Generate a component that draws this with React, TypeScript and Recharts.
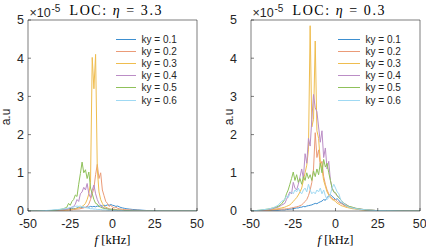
import React from "react";
import { LineChart, Line, XAxis, YAxis } from "recharts";

// frequency grid [kHz]
const FREQ = [
  -50, -45, -40, -37, -34, -32,
  -30, -29, -28, -27, -26, -25, -24, -23, -22, -21, -20, -19, -18, -17, -16, -15, -14, -13, -12,
  -11, -10, -9, -8, -7, -6, -5, -4, -3, -2, -1, 0, 1, 2, 3, 4, 5, 6, 7, 8,
  10, 12, 15, 18, 21, 25, 30, 40, 50,
];

const KY_LABELS = ["ky = 0.1", "ky = 0.2", "ky = 0.3", "ky = 0.4", "ky = 0.5", "ky = 0.6"];
const COLORS = ["#3d8fd0", "#eb9b78", "#efbd4f", "#bb8dc6", "#8fc15a", "#9fd9f3"];
const X_TICKS = [-50, -25, 0, 25, 50];
const Y_TICKS = [0, 1, 2, 3, 4, 5];

// LOC eta = 3.3 (values x 1e-5)
const A_KY1 = [
  0, 0, 0.01, 0.01, 0.02, 0.02,
  0.03, 0.03, 0.04, 0.04, 0.05, 0.05, 0.06, 0.07, 0.06, 0.08, 0.1, 0.08, 0.09, 0.1, 0.09, 0.11, 0.1, 0.12, 0.11,
  0.12, 0.11, 0.13, 0.12, 0.14, 0.13, 0.15, 0.14, 0.16, 0.15, 0.17, 0.15, 0.14, 0.12, 0.13, 0.11, 0.09, 0.08, 0.07, 0.06,
  0.05, 0.04, 0.03, 0.02, 0.01, 0.01, 0, 0, 0,
];
const A_KY2 = [
  0, 0, 0, 0, 0.01, 0.01,
  0.01, 0.01, 0.02, 0.02, 0.02, 0.03, 0.03, 0.04, 0.04, 0.05, 0.05, 0.06, 0.07, 0.08, 0.1, 0.12, 0.18, 0.3, 0.45,
  0.6, 0.95, 1.22, 0.85, 1.0, 0.55, 0.4, 0.25, 0.2, 0.12, 0.15, 0.1, 0.08, 0.1, 0.07, 0.06, 0.05, 0.04, 0.04, 0.03,
  0.03, 0.02, 0.02, 0.01, 0.01, 0, 0, 0, 0,
];
const A_KY3 = [
  0, 0, 0, 0.01, 0.01, 0.01,
  0.02, 0.02, 0.02, 0.03, 0.03, 0.04, 0.05, 0.05, 0.06, 0.07, 0.08, 0.1, 0.12, 0.15, 0.2, 0.3, 0.45, 0.75, 4.02,
  3.2, 4.1, 1.1, 0.5, 0.3, 0.2, 0.12, 0.1, 0.08, 0.06, 0.05, 0.05, 0.04, 0.04, 0.03, 0.03, 0.02, 0.02, 0.02, 0.01,
  0.01, 0.01, 0.01, 0, 0, 0, 0, 0, 0,
];
const A_KY4 = [
  0, 0, 0, 0.01, 0.01, 0.02,
  0.03, 0.03, 0.04, 0.05, 0.06, 0.08, 0.1, 0.12, 0.18, 0.3, 0.25, 0.45, 0.5, 0.62, 0.55, 0.72, 0.45, 0.35, 0.55,
  0.68, 0.45, 0.3, 0.2, 0.15, 0.1, 0.08, 0.07, 0.06, 0.05, 0.04, 0.04, 0.03, 0.03, 0.02, 0.02, 0.02, 0.01, 0.01, 0.01,
  0.01, 0, 0, 0, 0, 0, 0, 0, 0,
];
const A_KY5 = [
  0, 0, 0.01, 0.01, 0.02, 0.03,
  0.05, 0.06, 0.08, 0.1, 0.2, 0.15, 0.25, 0.3, 0.42, 0.38, 0.7, 0.98, 1.28, 1.0, 1.08, 0.85, 1.02, 0.6, 0.45,
  0.3, 0.2, 0.18, 0.12, 0.1, 0.08, 0.07, 0.06, 0.05, 0.04, 0.04, 0.03, 0.03, 0.03, 0.02, 0.02, 0.02, 0.01, 0.01, 0.01,
  0.01, 0, 0, 0, 0, 0, 0, 0, 0,
];
const A_KY6 = [
  0, 0, 0.01, 0.02, 0.03, 0.04,
  0.05, 0.06, 0.06, 0.07, 0.08, 0.09, 0.1, 0.11, 0.12, 0.13, 0.12, 0.13, 0.11, 0.1, 0.09, 0.08, 0.07, 0.06, 0.06,
  0.05, 0.05, 0.04, 0.04, 0.04, 0.03, 0.03, 0.03, 0.02, 0.02, 0.02, 0.02, 0.01, 0.01, 0.01, 0.01, 0.01, 0.01, 0, 0,
  0, 0, 0, 0, 0, 0, 0, 0, 0,
];

// LOC eta = 0.3 (values x 1e-5)
const B_KY1 = [
  0, 0.01, 0.01, 0.02, 0.02, 0.03,
  0.03, 0.04, 0.04, 0.05, 0.05, 0.06, 0.07, 0.08, 0.08, 0.1, 0.1, 0.12, 0.11, 0.13, 0.14, 0.15, 0.16, 0.18, 0.2,
  0.19, 0.22, 0.24, 0.26, 0.3, 0.28, 0.35, 0.4, 0.43, 0.38, 0.35, 0.3, 0.32, 0.28, 0.22, 0.2, 0.16, 0.14, 0.12, 0.1,
  0.08, 0.06, 0.04, 0.03, 0.02, 0.01, 0.01, 0, 0,
];
const B_KY2 = [
  0, 0.01, 0.02, 0.03, 0.04, 0.05,
  0.05, 0.06, 0.06, 0.07, 0.08, 0.09, 0.1, 0.11, 0.12, 0.14, 0.16, 0.2, 0.25, 0.3, 0.4, 0.55, 0.75, 1.1, 2.05,
  1.4, 1.6, 1.2, 1.3, 0.9, 0.7, 0.55, 0.45, 0.38, 0.33, 0.3, 0.3, 0.25, 0.22, 0.2, 0.18, 0.15, 0.13, 0.12, 0.1,
  0.08, 0.06, 0.04, 0.03, 0.02, 0.01, 0.01, 0, 0,
];
const B_KY3 = [
  0, 0.01, 0.02, 0.04, 0.06, 0.08,
  0.1, 0.12, 0.14, 0.16, 0.2, 0.25, 0.3, 0.35, 0.42, 0.5, 0.6, 0.8, 1.0, 1.2, 1.6, 4.85, 2.2, 2.4, 4.45,
  2.1, 1.9, 1.3, 1.1, 0.8, 0.65, 0.5, 0.42, 0.35, 0.3, 0.28, 0.25, 0.2, 0.18, 0.15, 0.13, 0.12, 0.1, 0.09, 0.08,
  0.06, 0.05, 0.03, 0.02, 0.02, 0.01, 0, 0, 0,
];
const B_KY4 = [
  0, 0.01, 0.03, 0.06, 0.1, 0.15,
  0.2, 0.3, 0.4, 0.5, 0.45, 0.75, 0.6, 0.55, 0.7, 0.9, 1.1, 0.85, 1.5, 1.25, 1.9, 1.7, 2.4, 3.05, 2.7,
  2.6, 2.2, 1.8, 2.1, 1.4, 1.65, 1.1, 1.3, 0.8, 0.6, 0.5, 0.45, 0.4, 0.35, 0.3, 0.25, 0.2, 0.18, 0.15, 0.12,
  0.09, 0.07, 0.05, 0.03, 0.02, 0.01, 0.01, 0, 0,
];
const B_KY5 = [
  0, 0.02, 0.05, 0.08, 0.12, 0.18,
  0.3, 0.45, 0.55, 0.7, 0.85, 1.02, 0.8, 0.95, 0.75, 0.85, 0.7, 0.9, 0.8, 1.0, 0.85, 0.95, 0.8, 1.05, 0.9,
  1.1, 0.95, 1.25, 1.0, 1.35, 1.15, 1.25, 1.0, 0.8, 0.6, 0.5, 0.48, 0.4, 0.35, 0.3, 0.25, 0.2, 0.17, 0.14, 0.12,
  0.1, 0.07, 0.05, 0.03, 0.02, 0.01, 0.01, 0, 0,
];
const B_KY6 = [
  0, 0.02, 0.05, 0.08, 0.15, 0.25,
  0.3, 0.4, 0.35, 0.45, 0.5, 0.45, 0.55, 0.5, 0.6, 0.5, 0.45, 0.55, 0.6, 0.5, 0.7, 0.55, 0.45, 0.5, 0.45,
  0.55, 0.5, 0.6, 0.45, 0.55, 0.4, 0.3, 0.35, 0.45, 0.6, 0.7, 0.6, 0.5, 0.45, 0.3, 0.25, 0.2, 0.15, 0.12, 0.1,
  0.08, 0.06, 0.04, 0.03, 0.02, 0.01, 0.01, 0, 0,
];

const buildRows = (series: number[][]) =>
  FREQ.map((f, i) => {
    const row: Record<string, number> = { f };
    series.forEach((s, k) => (row[`k${k + 1}`] = s[i]));
    return row;
  });

const dataA = buildRows([A_KY1, A_KY2, A_KY3, A_KY4, A_KY5, A_KY6]);
const dataB = buildRows([B_KY1, B_KY2, B_KY3, B_KY4, B_KY5, B_KY6]);

const AXIS = "#262626";
const SANS = "'Liberation Sans', Arial, sans-serif";
const SERIF = "'Liberation Serif', 'Times New Roman', serif";

type PanelProps = {
  data: Record<string, number>[];
  left: number;
  yW: number;
  rW: number;
  eta: string;
  legLine: number;
  legX: number;
};

const Panel = ({ data, left, yW, rW, eta, legLine, legX }: PanelProps) => {
  const plotL = yW;
  const plotR = 213 - rW;
  const cx = (plotL + plotR) / 2;
  const axisLine = { stroke: AXIS, strokeWidth: 0.6 };
  const tickLine = { stroke: AXIS, strokeWidth: 0.6 };
  const tickStyle = { fontSize: 12.5, fill: AXIS, fontFamily: SANS };

  return (
    <div style={{ position: "absolute", left, top: 0, width: 213, height: 248 }}>
      <LineChart width={213} height={248} data={data} margin={{ top: 0, right: 0, bottom: 0, left: 0 }}>
        <XAxis
          xAxisId="b"
          dataKey="f"
          type="number"
          domain={[-50, 50]}
          allowDataOverflow
          ticks={X_TICKS}
          height={37}
          tickSize={-3}
          tickMargin={11.5}
          axisLine={axisLine}
          tickLine={tickLine}
          tick={tickStyle}
        />
        <XAxis
          xAxisId="t"
          orientation="top"
          dataKey="f"
          type="number"
          domain={[-50, 50]}
          allowDataOverflow
          ticks={X_TICKS}
          height={20}
          tickSize={-3}
          tick={false}
          axisLine={axisLine}
          tickLine={tickLine}
        />
        <YAxis
          yAxisId="l"
          type="number"
          domain={[0, 5]}
          allowDataOverflow
          ticks={Y_TICKS}
          width={yW}
          tickSize={-3}
          tickMargin={yW - 21}
          axisLine={axisLine}
          tickLine={tickLine}
          tick={tickStyle}
        />
        <YAxis
          yAxisId="r"
          orientation="right"
          type="number"
          domain={[0, 5]}
          allowDataOverflow
          ticks={Y_TICKS}
          width={rW}
          tickSize={-3}
          tick={false}
          axisLine={axisLine}
          tickLine={tickLine}
        />
        {KY_LABELS.map((lab, i) => (
          <Line
            key={lab}
            xAxisId="b"
            yAxisId="l"
            type="linear"
            dataKey={`k${i + 1}`}
            name={lab}
            stroke={COLORS[i]}
            strokeWidth={1}
            dot={false}
            isAnimationActive={false}
          />
        ))}
      </LineChart>
      {/* legend */}
      <div style={{ position: "absolute", left: legX, top: 33, fontFamily: SANS, fontSize: 10, color: AXIS }}>
        {KY_LABELS.map((lab, i) => (
          <div key={lab} style={{ display: "flex", alignItems: "center", height: 12.2, whiteSpace: "nowrap" }}>
            <span style={{ display: "inline-block", width: legLine, height: 0, borderTop: `1.2px solid ${COLORS[i]}`, marginRight: 5.5 }} />
            <span>{lab}</span>
          </div>
        ))}
      </div>
      <svg width={213} height={248} style={{ position: "absolute", left: 0, top: 0, pointerEvents: "none" }}>
        <text x={plotL + 1.5} y={16.5} fontFamily={SANS} fontSize={12.5} fill={AXIS}>×10</text>
        <text x={plotL + 23.5} y={12} fontFamily={SANS} fontSize={10} fill={AXIS}>-5</text>
        <text x={cx + 3} y={15} textAnchor="middle" fontFamily={SERIF} fontSize={14} fill="#000" textLength={92} lengthAdjust="spacing">
          LOC:  <tspan fontStyle="italic">η</tspan> = {eta}
        </text>
        <text
          x={plotL - 18}
          y={117}
          transform={`rotate(-90 ${plotL - 18} 117)`}
          textAnchor="middle"
          fontFamily={SANS}
          fontSize={12}
          fill={AXIS}
        >
          a.u
        </text>
        <text x={cx} y={244} textAnchor="middle" fontFamily={SERIF} fontSize={12.5} fill="#000">
          <tspan fontStyle="italic">f</tspan> [kHz]
        </text>
      </svg>
    </div>
  );
};

export default function App() {
  return (
    <div style={{ position: "absolute", left: 0, top: 0, width: 426, height: 248, background: "#fff" }}>
      <Panel data={dataA} left={0} yW={28} rW={16} eta="3.3" legLine={20} legX={116} />
      <Panel data={dataB} left={213} yW={38} rW={6} eta="0.3" legLine={22} legX={125} />
    </div>
  );
}
